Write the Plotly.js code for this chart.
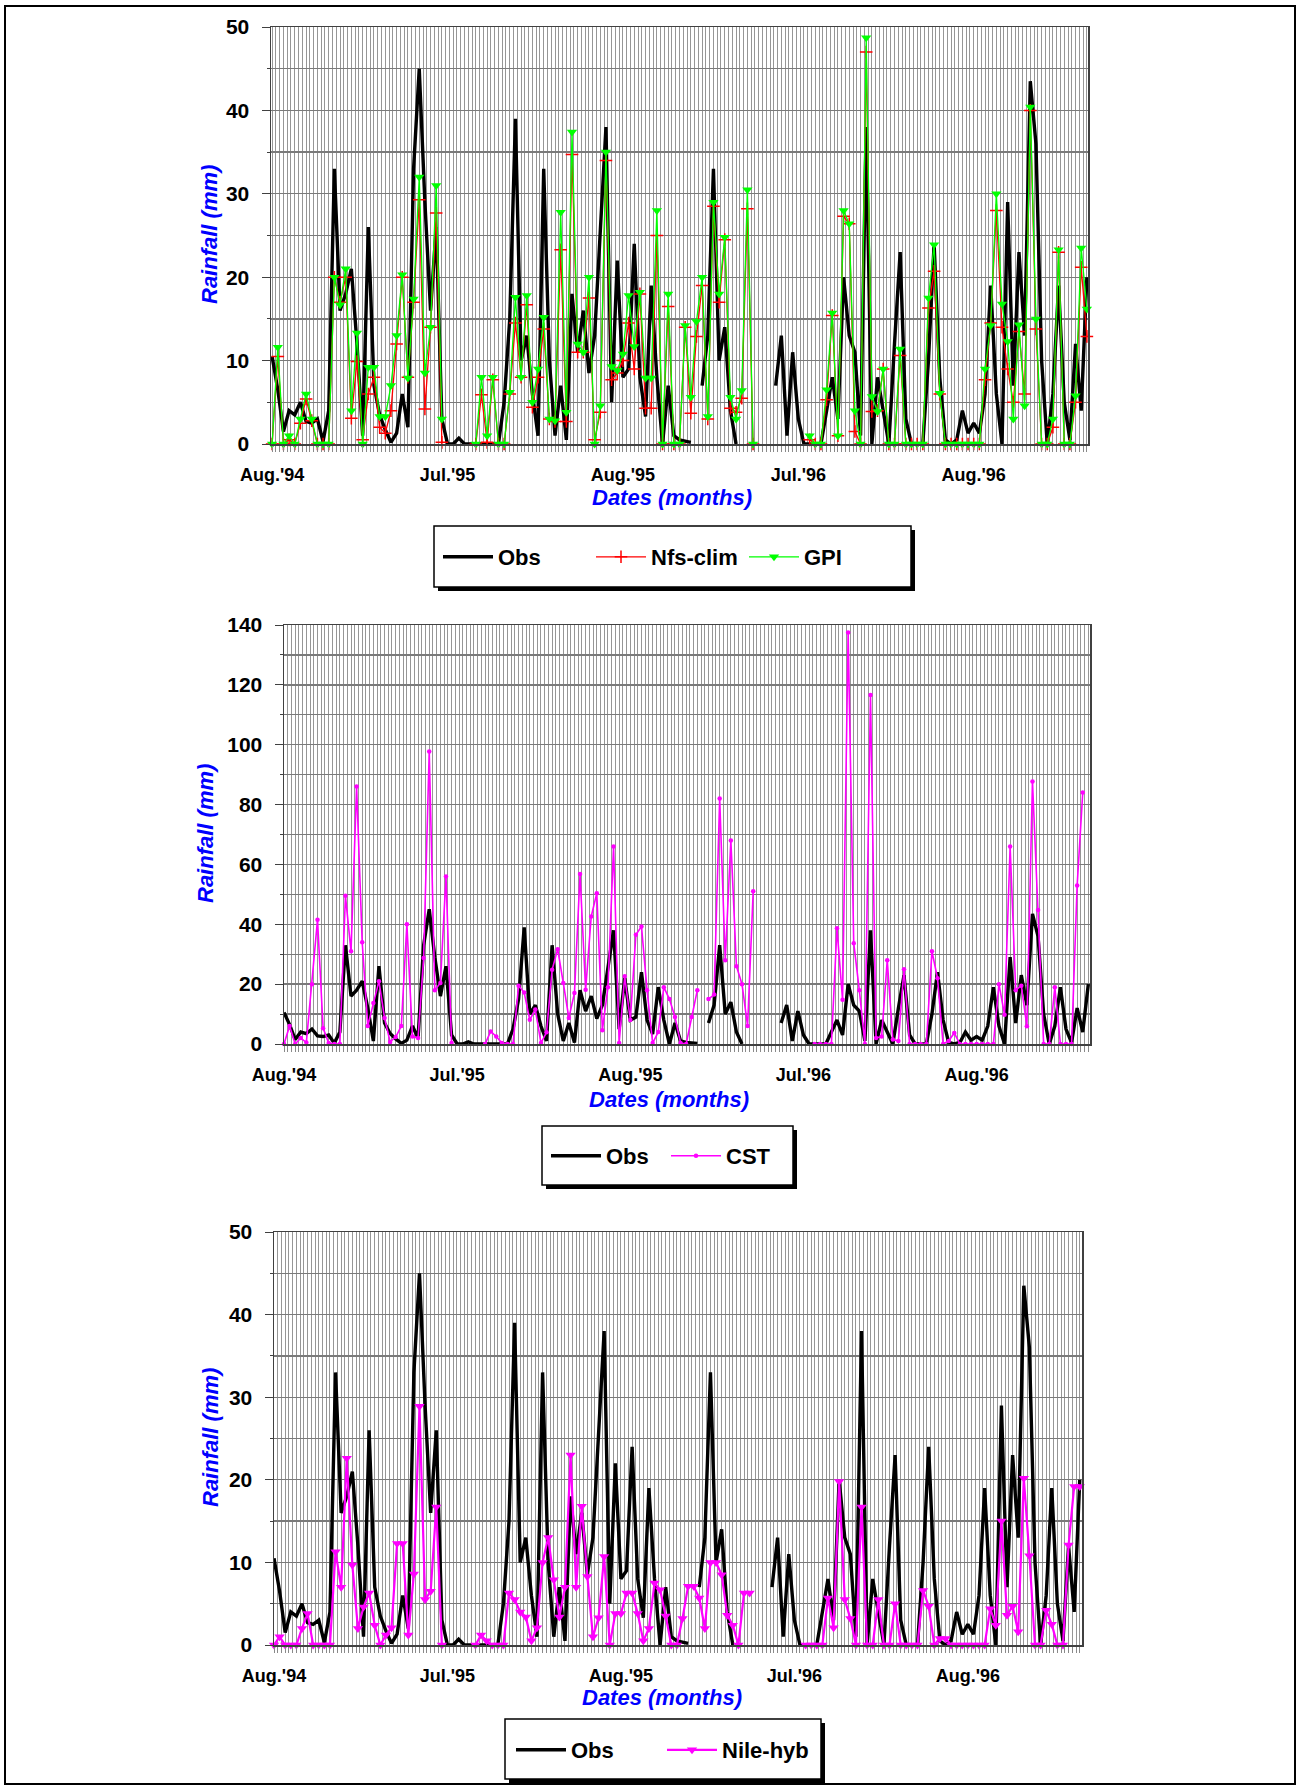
<!DOCTYPE html>
<html>
<head>
<meta charset="utf-8">
<script src="https://cdn.plot.ly/plotly-3.0.1.min.js"></script>
<style>
  html, body { margin: 0; padding: 0; background: #fff; }
  #chart { width: 1300px; height: 1787px; }
</style>
</head>
<body>
<div id="chart"></div>
<script>
// ---------------- DATA ----------------
// 145 consecutive periods along the category axis
const periods = Array.from({length: 145}, (_, i) => i);
const tickPositions = [0, 31, 62, 93, 124];
const tickLabels = ["Aug.'94", "Jul.'95", "Aug.'95", "Jul.'96", "Aug.'96"];

const obs = [
  10.5, 6.5, 1.5, 4, 3.5, 5, 2.7, 2.5, 3, 0.3,
  4, 33, 16, 18, 21, 12, 1, 26, 7, 3.5,
  1.7, 0.2, 1.3, 6, 2, 33, 45, 29, 16, 26,
  3, 0, 0, 0.7, 0, 0, 0, 0, 0, 0,
  0, 5, 15, 39, 10, 13, 6, 1, 33, 10,
  1, 7, 0.5, 18, 11, 16, 8.5, 13, 25, 38,
  5, 22, 8, 9, 24, 8, 3.3, 19, 8, 0,
  7, 1, 0.5, 0.3, 0.2, null, 7, 13, 33, 10,
  14, 4, 0, null, null, null, null, null, null, 7,
  13, 1, 11, 3, 0, 0, 0, 0, 4, 8,
  3, 20, 13, 11, 1, 38, 0, 8, 4, 0,
  12, 23, 3, 0, 0, 0, 10, 24, 8, 0.5,
  0, 0.5, 4, 1.3, 2.5, 1.3, 6, 19, 6, 0,
  29, 7, 23, 13, 43.5, 36, 10, 0, 6, 19,
  5, 0.5, 12, 4, 20
];

const nfsClim = [
  0, 10.5, 0, 0.5, 0, 2.5, 5.4, 2.8, 0, 0,
  0, 20, 17, 20, 3.1, 9.9, 0.5, 6, 8, 2,
  1.3, 4, 12, 20, 8, 17, 29.3, 4.2, 14, 27.7,
  0.2, null, null, null, null, null, 0, 5.9, 0.2, 7.7,
  0, 0, 6, 14.5, 8, 16.7, 4.4, 8, 13.8, 3,
  2.7, 23.3, 2.7, 34.7, 11, 11, 17.5, 0.5, 3.8, 34,
  7.7, 8.5, 10, 14.5, 9, 18, 4.3, 4.3, 25, 0,
  16.5, 0, 0, 14, 3.7, 12.9, 19, 3, 28.5, 17,
  24.5, 4.3, 3.8, 5.5, 28.2, 0, null, null, null, null,
  null, null, null, null, null, 0.5, 0, 0, 5.3, 15.4,
  1, 27.3, 26.4, 1.5, 0, 47, 3.9, 4, 9, 0,
  0, 10.6, 0, 0, 0, 0, 16.3, 20.7, 6, 0,
  0, 0, 0, 0, 0, 0, 7.7, 14.5, 28, 14,
  9, 5, 13.5, 6, 40, 13.8, 0, 0, 2, 23,
  0, 0, 5, 21.2, 12.9
];

const gpi = [
  0, 11.6, 0, 1, 0, 3, 6, 3, 0, 0,
  0, 20, 16.7, 21, 4, 13.3, 0, 9.2, 9.2, 3.3,
  3.3, 7, 13, 20.3, 7.9, 17.4, 32, 8.5, 14, 31,
  3, null, null, null, null, null, 0, 8, 1, 8,
  0, 0, 6.2, 17.6, 8, 17.8, 5, 9, 15.2, 3,
  2.8, 27.8, 3.8, 37.4, 12, 11, 20, 0, 4.6, 35,
  9.3, 8.8, 10.8, 17.8, 11.7, 18.2, 7.9, 7.9, 28, 0,
  18, 0, 0, 14.2, 5.6, 14.7, 20, 3.3, 29, 18,
  24.8, 5.6, 3, 6.4, 30.5, 0, null, null, null, null,
  null, null, null, null, null, 1, 0, 0, 6.5, 15.7,
  1, 28, 26.4, 4, 0, 48.7, 5.7, 3.9, 9, 0,
  0, 11.4, 0, 0, 0, 0, 17.5, 23.9, 6.1, 0,
  0, 0, 0, 0, 0, 0, 9, 14.2, 30, 16.8,
  12.3, 3, 14.3, 4.6, 40.4, 15, 0, 0, 3, 23.3,
  0, 0, 5.8, 23.5, 16.2
];

const cst = [
  0, 6, 0, 2, 0.5, 20, 41.5, 5.3, 0.3, 0,
  0, 49.5, 31, 86, 34, 6, 13.7, 21, 8.7, 0.7,
  2.3, 6, 40, 2.5, 2, 28.7, 97.7, 18, 20.4, 56,
  0.3, null, null, null, null, null, 0, 4.2, 2.5, 0.3,
  0, 0, 19.5, 17.2, 8.1, 11.5, 0.3, 3.9, 24.8, 31.7,
  20.4, 8.7, 17, 56.8, 18.1, 42.6, 50.4, 4.6, 19, 66,
  0.3, 22.6, 8, 36.5, 39.3, 18, 0.3, 4, 19, 15,
  9, 0.3, 0, 9, 18, null, 15, 16.5, 82, 28,
  68, 26, 20, 6, 51, null, null, null, null, null,
  null, null, null, null, null, 0, 0, 0, 0, 38.7,
  14.8, 137.5, 33.7, 18, 0, 116.6, 2, 2.5, 28, 1.5,
  1, 25, 0, 0, 0, 0, 31, 22, 0, 1,
  3.7, 0, 0, 0, 0, 0, 0, 0, 20, 9.8,
  66, 18, 19.5, 5.9, 87.7, 44.8, 0, 0, 19, 0,
  0, 0, 53, 84, null
];

const nileHyb = [
  0, 1, 0, 0, 0, 2, 3.8, 0, 0, 0,
  0, 11.3, 7, 22.6, 9.7, 2, 4.6, 6.3, 2.4, 0,
  1.2, 2.1, 12.3, 12.3, 1.2, 8.6, 28.9, 5.5, 6.5, 16.7,
  0, null, null, null, null, null, 0, 1.2, 0.5, 0,
  0, 0, 6.3, 5.5, 4, 3.4, 0.5, 2.1, 10, 13,
  7.9, 3.4, 7, 23, 7, 16.8, 8.3, 1, 3.3, 10.7,
  0, 3.8, 3.8, 6.3, 6.3, 3.8, 0.5, 2, 7.5, 6.7,
  3.5, 0, 0, 3.2, 7.1, 7.1, 5.7, 2, 10, 10,
  8.5, 3.6, 2.4, 0, 6.3, 6.3, null, null, null, null,
  null, null, null, null, null, 0, 0, 0, 0, 5.7,
  2.1, 19.8, 5.5, 3.2, 0, 16.7, 0, 0, 5.5, 0,
  0, 5, 0, 0, 0, 0, 6.6, 4.7, 0, 0.8,
  0.8, 0, 0, 0, 0, 0, 0, 0, 4.4, 2.4,
  15, 3.6, 4.7, 1.6, 20.2, 10.8, 0, 0, 4.2, 2.5,
  0, 0, 12.1, 19.2, 19.2
];

// ---------------- LAYOUT HELPERS ----------------
const W = 1300, H = 1787;
const px = v => v / W;
const py = v => 1 - v / H;
const FONT = 'Liberation Sans, Arial, sans-serif';

function xAxis(l, r, range, anchor) {
  return {
    domain: [px(l), px(r)], range: range, anchor: anchor,
    tickmode: 'array', tickvals: tickPositions, ticktext: tickLabels,
    ticks: '', showgrid: false, zeroline: false,
    showline: true, linecolor: '#404040', linewidth: 1.5, mirror: true,
    tickfont: {family: FONT, size: 18, color: '#000', weight: 'bold'},
    ticklabelstandoff: 14,
    minor: {tickmode: 'linear', tick0: 0, dtick: 2/3, showgrid: true,
            gridcolor: '#969696', gridwidth: 1, ticks: 'outside', ticklen: 6,
            tickcolor: '#8a8a8a', tickwidth: 1}
  };
}
function yAxis(t, b, range, dtick, anchor) {
  return {
    domain: [py(b), py(t)], range: range, anchor: anchor,
    tick0: 0, dtick: dtick, ticks: 'outside', ticklen: 8, tickcolor: '#404040',
    showgrid: true, gridcolor: '#7a7a7a', gridwidth: 1.3, zeroline: false,
    showline: true, linecolor: '#404040', linewidth: 1.5, mirror: true,
    tickfont: {family: FONT, size: 21, color: '#000', weight: 'bold'},
    ticklabelstandoff: 8,
    minor: {tick0: 0, dtick: dtick / 2, showgrid: true, gridcolor: '#7a7a7a',
            gridwidth: 1.3, ticks: 'outside', ticklen: 3, tickcolor: '#404040'}
  };
}

// ---------------- TRACES ----------------
const OBS_W = 3.4;
const traces = [
  {x: periods, y: obs, xaxis: 'x', yaxis: 'y', name: 'Obs', mode: 'lines',
   line: {color: '#000', width: OBS_W}, legend: 'legend', cliponaxis: false},
  {x: periods, y: nfsClim, xaxis: 'x', yaxis: 'y', name: 'Nfs-clim', mode: 'lines+markers',
   line: {color: '#ff0000', width: 1.3},
   marker: {symbol: 'cross-thin', size: 9, line: {color: '#ff0000', width: 1.5}},
   legend: 'legend', cliponaxis: false},
  {x: periods, y: gpi, xaxis: 'x', yaxis: 'y', name: 'GPI', mode: 'lines+markers',
   line: {color: '#00ff00', width: 1.3},
   marker: {symbol: 'triangle-down', size: 9, color: '#00ff00'},
   legend: 'legend', cliponaxis: false},

  {x: periods, y: obs, xaxis: 'x2', yaxis: 'y2', name: 'Obs', mode: 'lines',
   line: {color: '#000', width: OBS_W}, legend: 'legend2', cliponaxis: false},
  {x: periods, y: cst, xaxis: 'x2', yaxis: 'y2', name: 'CST', mode: 'lines+markers',
   line: {color: '#ff00ff', width: 1.6},
   marker: {symbol: 'circle', size: 4.5, color: '#ff00ff'},
   legend: 'legend2', cliponaxis: false},

  {x: periods, y: obs, xaxis: 'x3', yaxis: 'y3', name: 'Obs', mode: 'lines',
   line: {color: '#000', width: OBS_W}, legend: 'legend3', cliponaxis: false},
  {x: periods, y: nileHyb, xaxis: 'x3', yaxis: 'y3', name: 'Nile-hyb', mode: 'lines+markers',
   line: {color: '#ff00ff', width: 2.2},
   marker: {symbol: 'triangle-down', size: 9, color: '#ff00ff'},
   legend: 'legend3', cliponaxis: false}
];

// ---------------- ANNOTATIONS / SHAPES ----------------
function title(text, x, y, rot) {
  return {text: text, xref: 'paper', yref: 'paper', x: px(x), y: py(y),
          xanchor: 'center', yanchor: 'middle', showarrow: false, textangle: rot || 0,
          font: {family: FONT, size: 22, color: '#0000ff', weight: 'bold', style: 'italic'}};
}
function box(l, t, r, b) {
  return [
    {type: 'rect', xref: 'paper', yref: 'paper', x0: px(l + 4), x1: px(r + 4), y0: py(b + 4), y1: py(t + 4),
     fillcolor: '#000', line: {width: 0}, layer: 'above'},
    {type: 'rect', xref: 'paper', yref: 'paper', x0: px(l), x1: px(r), y0: py(b), y1: py(t),
     fillcolor: '#fff', line: {color: '#000', width: 1.5}, layer: 'above'}
  ];
}
function legendCfg(xl, yc, ew) {
  return {x: px(xl), y: py(yc), xanchor: 'left', yanchor: 'middle', orientation: 'h',
          bgcolor: 'rgba(0,0,0,0)', borderwidth: 0, itemwidth: 50, entrywidth: ew,
          font: {family: FONT, size: 22, color: '#000', weight: 'bold'}};
}

const layout = {
  width: W, height: H, margin: {l: 0, r: 0, t: 0, b: 0},
  paper_bgcolor: '#fff', plot_bgcolor: '#fff', showlegend: true,
  font: {family: FONT},
  xaxis: xAxis(271, 1088, [-0.2, 144.2], 'y'),
  yaxis: yAxis(27, 444, [0, 50], 10, 'x'),
  xaxis2: xAxis(284, 1090, [0, 144.3], 'y2'),
  yaxis2: yAxis(625, 1044, [0, 140], 20, 'x2'),
  xaxis3: xAxis(274, 1082, [0, 144.4], 'y3'),
  yaxis3: yAxis(1232, 1645, [0, 50], 10, 'x3'),
  legend: legendCfg(438, 557, 88),
  legend2: legendCfg(546, 1156, 55),
  legend3: legendCfg(511, 1750, 86),
  annotations: [
    title('Dates (months)', 672, 497),
    title('Dates (months)', 669, 1099),
    title('Dates (months)', 662, 1697),
    title('Rainfall (mm)', 210, 235, -90),
    title('Rainfall (mm)', 205, 834, -90),
    title('Rainfall (mm)', 210, 1438, -90)
  ],
  shapes: [
    {type: 'rect', xref: 'paper', yref: 'paper', x0: px(5), x1: px(1295), y0: py(1784), y1: py(6),
     line: {color: '#000', width: 2}, layer: 'below'},
    ...box(434, 526, 911, 587),
    ...box(542, 1126, 793, 1185),
    ...box(505, 1719, 821, 1779)
  ]
};

Plotly.newPlot('chart', traces, layout, {displayModeBar: false, staticPlot: true});
</script>
</body>
</html>
